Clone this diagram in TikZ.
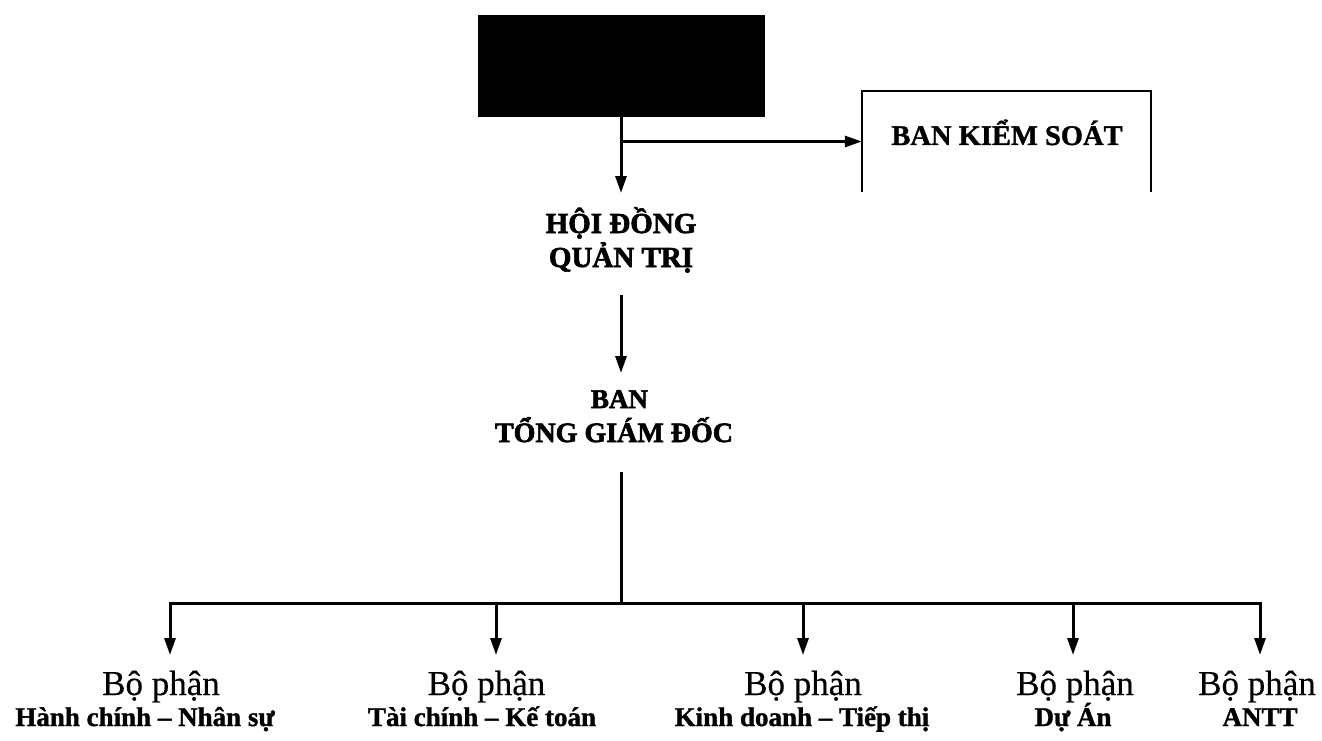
\documentclass[tikz,border=0pt]{standalone}
\usepackage{fontspec}
\setmainfont{Liberation Serif}
\newfontfamily\heavyserif[FakeBold=2.2]{Liberation Serif Bold}
\newfontfamily\subserif[FakeBold=1.2]{Liberation Serif Bold}
\newfontfamily\deptserif[FakeBold=0.4]{Liberation Serif}
\usetikzlibrary{arrows.meta}
\begin{document}
\begin{tikzpicture}[x=1pt,y=-1pt,
  conn/.style={line width=3pt,line cap=rect},
  arr/.style={line width=3pt,-{Triangle[length=17pt,width=11pt]}},
  head/.style={font=\heavyserif\fontsize{29}{34}\selectfont, anchor=base, inner sep=0pt},
  dept/.style={font=\deptserif\fontsize{35}{40}\selectfont, anchor=base, inner sep=0pt},
  sub/.style={font=\subserif\fontsize{27}{32}\selectfont, anchor=base, inner sep=0pt}]
\useasboundingbox (0,0) rectangle (1322,741);
% top black box
\node[fill=black, minimum width=287pt, minimum height=102pt, inner sep=0pt] (dhcd) at (621,66) {};
% Hoi dong quan tri
\node[head] (hd1) at (621,233) {HỘI ĐỒNG};
\node[head] (hd2) at (621,267) {QUẢN TRỊ};
\coordinate (hdtop) at (621,193);
\draw[arr] (dhcd.south) -- (hdtop);
% Ban kiem soat
\node[minimum width=289pt, minimum height=101pt, inner sep=0pt] (bks) at (1006.5,141.5) {};
\draw[line width=1.5pt] (bks.south west) -- (bks.north west) -- (bks.north east) -- (bks.south east);
\node[anchor=base, inner sep=0pt, font=\subserif\fontsize{28.5}{32}\selectfont] (bkst) at (1007,145) {BAN KIỂM SOÁT};
\coordinate (j1) at (dhcd.south |- bks.west);
\draw[arr] (j1) -- (bks.west);
% Ban tong giam doc
\coordinate (hdbot) at (621,295);
\coordinate (btop) at (621,373);
\draw[arr] (hdbot) -- (btop);
\node[head, font=\heavyserif\fontsize{27}{32}\selectfont] (bt1) at (619.5,408) {BAN};
\node[head, font=\heavyserif\fontsize{28}{32}\selectfont] (bt2) at (614,442) {TỔNG GIÁM ĐỐC};
\coordinate (vtop) at (621,473);
\coordinate (bus) at (621,603);
\draw[conn] (vtop) -- (bus);
% bus and drops
\foreach \i/\x in {1/170,2/496,3/803,4/1073,5/1260}{
  \coordinate (d\i) at (\x,603);
  \coordinate (t\i) at (\x,655);
}
\draw[conn] (d1) -- (d5);
\foreach \i in {1,...,5}{ \draw[arr] (d\i) -- (t\i); }
% departments
\node[dept] (b1) at (161,695) {Bộ phận};
\node[sub]  (s1) at (145,726) {Hành chính – Nhân sự};
\node[dept] (b2) at (486.5,695) {Bộ phận};
\node[sub]  (s2) at (482,726) {Tài chính – Kế toán};
\node[dept] (b3) at (803,695) {Bộ phận};
\node[sub]  (s3) at (802,726) {Kinh doanh – Tiếp thị};
\node[dept] (b4) at (1075,695) {Bộ phận};
\node[sub]  (s4) at (1073,726) {Dự Án};
\node[dept] (b5) at (1257,695) {Bộ phận};
\node[sub]  (s5) at (1260,726) {ANTT};
\end{tikzpicture}
\end{document}
